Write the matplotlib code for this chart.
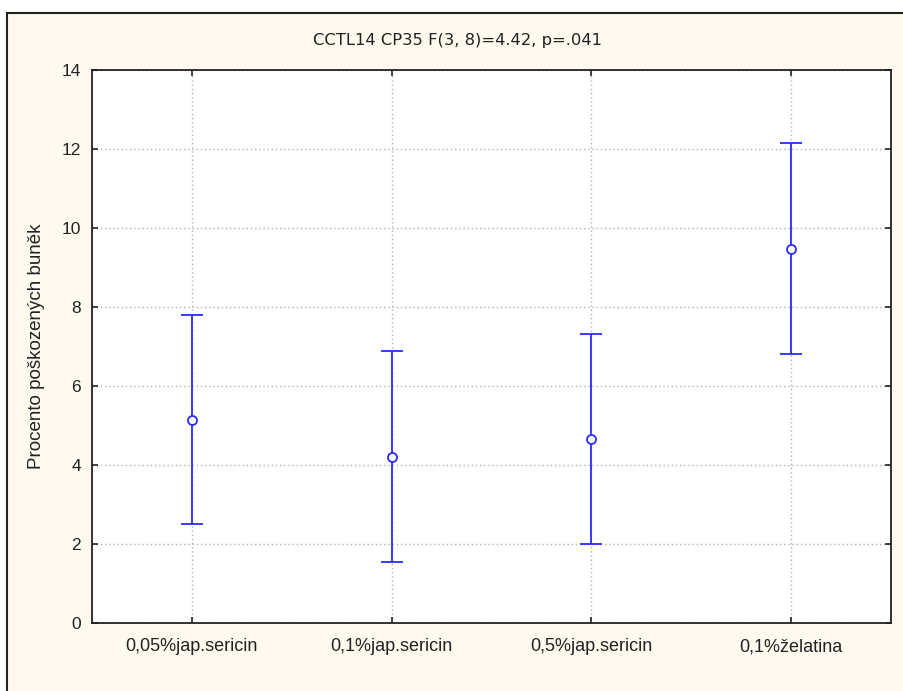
import matplotlib
matplotlib.use('Agg')
import matplotlib.pyplot as plt
from matplotlib.patches import Rectangle

# Data
groups = ['0,05%jap.sericin', '0,1%jap.sericin', '0,5%jap.sericin', '0,1%želatina']
means = [5.13, 4.21, 4.66, 9.47]
upper = [7.79, 6.88, 7.32, 12.14]
lower = [2.50, 1.55, 1.99, 6.81]

title = 'CCTL14 CP35 F(3, 8)=4.42, p=.041'
ylabel = 'Procento poškozených buněk'

blue = '#2b2bff'
cream = '#fffaef'

fig = plt.figure(figsize=(9.04, 6.91), dpi=100)
fig.patch.set_facecolor('white')

# outer panel frame
frame = Rectangle((7 / 904, -0.1), 1.2, (691 - 13) / 691 + 0.1,
                  transform=fig.transFigure, facecolor=cream,
                  edgecolor='#222222', linewidth=1.5, zorder=-5)
fig.patches.append(frame)

ax = fig.add_axes([92 / 904, (691 - 623) / 691, (891 - 92) / 904, (623 - 70) / 691])
ax.set_zorder(2)
ax.set_facecolor('white')

x = list(range(1, len(groups) + 1))
yerr = [[m - lo for m, lo in zip(means, lower)], [up - m for m, up in zip(means, upper)]]
ax.errorbar(x, means, yerr=yerr, fmt='o', color=blue, ecolor=blue,
            markerfacecolor='white', markeredgecolor=blue, markersize=6.5,
            markeredgewidth=1.3, elinewidth=1.3, capsize=8, capthick=1.3, zorder=3)

ax.set_xlim(0.5, len(groups) + 0.5)
ax.set_ylim(0, 14)
ax.set_yticks(range(0, 15, 2))
ax.set_xticks(x)
ax.set_xticklabels(groups)

ax.grid(True, linestyle=(0, (1, 2)), color='#b0b0b0', linewidth=1.0)
ax.set_axisbelow(True)
for s in ax.spines.values():
    s.set_linewidth(1.3)
    s.set_color('#222222')

ax.tick_params(direction='in', length=4, width=1.2, top=True, right=True,
               labelsize=12.5, colors='#222222', pad=8)
ax.tick_params(axis='x', labelsize=13, pad=11)
for lab in ax.get_xticklabels() + ax.get_yticklabels():
    lab.set_fontfamily('Liberation Sans')
    lab.set_color('#222222')

ax.set_ylabel(ylabel, fontsize=13.5, fontfamily='Liberation Sans', color='#222222', labelpad=12)
fig.text(458 / 904, 1 - 41 / 691, title, ha='center', va='center',
         fontsize=11.8, fontfamily='DejaVu Sans', color='#222222', zorder=3)

fig.savefig('out.png', dpi=100)
